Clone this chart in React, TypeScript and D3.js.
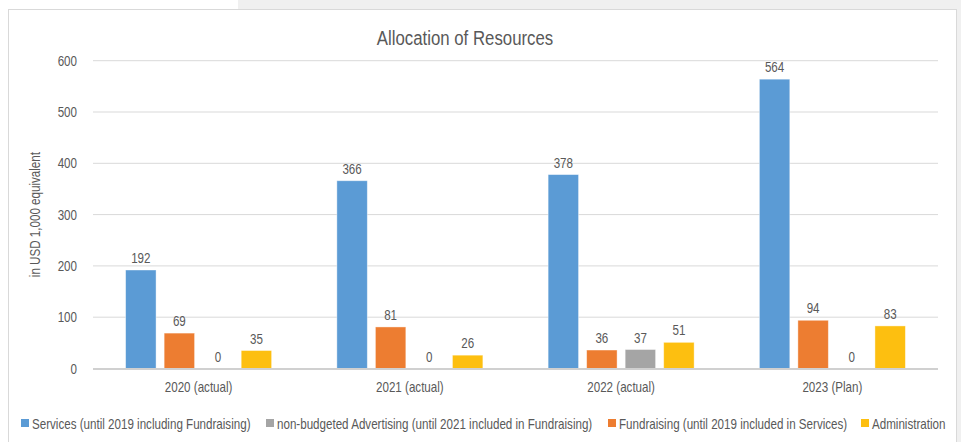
import * as d3 from 'd3';
import React from 'react';

const width = 961;
const height = 442;

const categories = ['2020 (actual)', '2021 (actual)', '2022 (actual)', '2023 (Plan)'];
const services = [192, 366, 378, 564];
const advertising = [0, 0, 37, 0];
const fundraising = [69, 81, 36, 94];
const administration = [35, 26, 51, 83];
const yTicks = [0, 100, 200, 300, 400, 500, 600];

// order of bars inside a group
const barSeries = [
  {key: 'services', values: services, color: '#5b9bd5'},
  {key: 'fundraising', values: fundraising, color: '#ed7d31'},
  {key: 'advertising', values: advertising, color: '#a5a5a5'},
  {key: 'administration', values: administration, color: '#fdbf10'},
];

const legend = [
  {label: 'Services (until 2019 including Fundraising)', color: '#5b9bd5', x: 21},
  {label: 'non-budgeted Advertising (until 2021 included in Fundraising)', color: '#a5a5a5', x: 266},
  {label: 'Fundraising (until 2019 included in Services)', color: '#ed7d31', x: 608},
  {label: 'Administration', color: '#fdbf10', x: 861},
];

const font = '"Liberation Sans", Arial, sans-serif';
const textColor = '#595959';
const sx = 0.8; // squeeze text to look like the condensed font of the original

function CText({x, y, size = 14.5, anchor = 'middle', rotate = 0, children}: any) {
  return (
    <text
      transform={`translate(${x},${y}) rotate(${rotate}) scale(${sx},1)`}
      textAnchor={anchor}
      fontSize={size}
      fill={textColor}
    >
      {children}
    </text>
  );
}

export default function App() {
  const left = 93;
  const right = 938;
  const top = 60.7;
  const bottom = 368.5;

  const x0 = d3.scaleBand().domain(categories).range([left, right]);
  const inner = 146;
  const x1 = d3
    .scaleBand()
    .domain(barSeries.map(s => s.key))
    .range([(x0.bandwidth() - inner) / 2, (x0.bandwidth() + inner) / 2])
    .paddingInner(0.21);
  const y = d3.scaleLinear().domain([0, 600]).range([bottom, top]);

  return (
    <svg
      width={width}
      height={height}
      style={{position: 'absolute', left: 0, top: 0, background: '#fff'}}
      fontFamily={font}
    >
      <rect x={238} y={0} width={width - 238} height={9} fill="#f0f0f0" />
      <rect x={957} y={0} width={4} height={height} fill="#f0f0f0" />
      <rect x={8.5} y={9.5} width={948} height={440} fill="#fff" stroke="#d9d9d9" />

      <CText x={465} y={45} size={21}>
        Allocation of Resources
      </CText>

      {yTicks.map(t => (
        <g key={t}>
          {t > 0 && <line x1={left} x2={right} y1={y(t)} y2={y(t)} stroke="#d9d9d9" strokeWidth={1} />}
          <CText x={77} y={y(t) + 5} anchor="end">
            {t}
          </CText>
        </g>
      ))}

      <CText x={40} y={(top + bottom) / 2} rotate={-90}>
        in USD 1,000 equivalent
      </CText>

      {categories.map((c, i) => (
        <g key={c} transform={`translate(${x0(c)},0)`}>
          {barSeries.map(s => {
            const v = s.values[i];
            const bx = x1(s.key)!;
            const bw = x1.bandwidth();
            return (
              <g key={s.key}>
                {v > 0 && (
                  <rect
                    x={bx}
                    y={y(v)}
                    width={bw}
                    height={bottom - y(v)}
                    fill={s.color}
                    stroke="#fff"
                    strokeOpacity={0.5}
                    strokeWidth={0.8}
                  />
                )}
                <CText x={bx + bw / 2} y={y(v) - 7}>
                  {v}
                </CText>
              </g>
            );
          })}
          <CText x={x0.bandwidth() / 2} y={392}>
            {c}
          </CText>
        </g>
      ))}

      <line x1={left} x2={right} y1={bottom + 0.5} y2={bottom + 0.5} stroke="#d0d0d0" strokeWidth={2} />

      {legend.map(l => (
        <g key={l.label}>
          <rect x={l.x} y={419} width={8} height={8} fill={l.color} />
          <CText x={l.x + 11} y={428.5} anchor="start">
            {l.label}
          </CText>
        </g>
      ))}
    </svg>
  );
}
